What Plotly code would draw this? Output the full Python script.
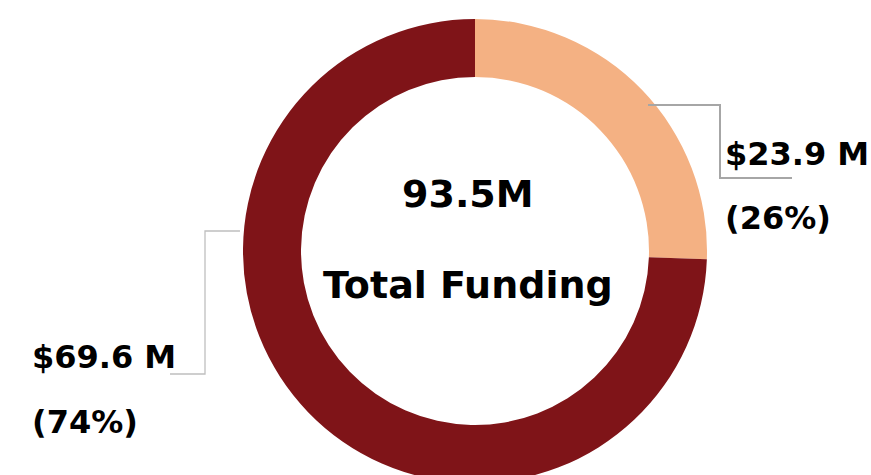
import plotly.graph_objects as go

labels = ["Other Funding", "Main Funding"]
values = [23.9, 69.6]
colors = ["#F4B183", "#7F1418"]
total_text = "93.5M"
center_label = "Total Funding"
value_labels = ["$23.9 M", "$69.6 M"]
pct_labels = ["(26%)", "(74%)"]

W, H = 871, 500
MT, MB, ML, MR = 19, 17, 0, 0


def px(x):
    return (x - ML) / (W - ML - MR)


def py(y):
    return 1 - (y - MT) / (H - MT - MB)


fig = go.Figure(
    go.Pie(
        labels=labels,
        values=values,
        marker=dict(colors=colors, line=dict(width=0)),
        hole=0.75,
        sort=False,
        direction="clockwise",
        rotation=0,
        textinfo="none",
        hoverinfo="label+value+percent",
        domain=dict(x=[0.0907, 1.0], y=[0.0, 1.0]),
        showlegend=False,
    )
)

font_lbl = dict(family="DejaVu Sans", size=32, color="#000000")
font_ctr = dict(family="DejaVu Sans", size=38, color="#000000")

annotations = [
    dict(x=px(468), y=py(194), text="<b>%s</b>" % total_text, font=font_ctr),
    dict(x=px(468), y=py(285), text="<b>%s</b>" % center_label, font=font_ctr),
    dict(x=px(723), y=py(154), text="<b>%s</b>" % value_labels[0], font=font_lbl, xanchor="left"),
    dict(x=px(723), y=py(218), text="<b>%s</b>" % pct_labels[0], font=font_lbl, xanchor="left"),
    dict(x=px(30), y=py(357), text="<b>%s</b>" % value_labels[1], font=font_lbl, xanchor="left"),
    dict(x=px(30), y=py(422), text="<b>%s</b>" % pct_labels[1], font=font_lbl, xanchor="left"),
]
for a in annotations:
    a.update(xref="paper", yref="paper", showarrow=False, yanchor="middle")
    a.setdefault("xanchor", "center")


def path(points):
    return "M " + " L ".join("%f,%f" % (px(x), py(y)) for x, y in points)


shapes = [
    dict(type="path", xref="paper", yref="paper",
         path=path([(648, 105), (720, 105), (720, 178), (792, 178)]),
         line=dict(color="#A6A6A6", width=2)),
    dict(type="path", xref="paper", yref="paper",
         path=path([(240, 231), (205, 231), (205, 374), (170, 374)]),
         line=dict(color="#BFBFBF", width=1.3)),
]

fig.update_layout(
    width=W,
    height=H,
    margin=dict(t=MT, b=MB, l=ML, r=MR, pad=0),
    paper_bgcolor="#FFFFFF",
    plot_bgcolor="#FFFFFF",
    annotations=annotations,
    shapes=shapes,
)

fig.write_html(
    "out.html",
    config={"displayModeBar": False},
    post_script="document.body.style.margin='0';document.body.style.overflow='hidden';document.documentElement.style.overflow='hidden';",
)
